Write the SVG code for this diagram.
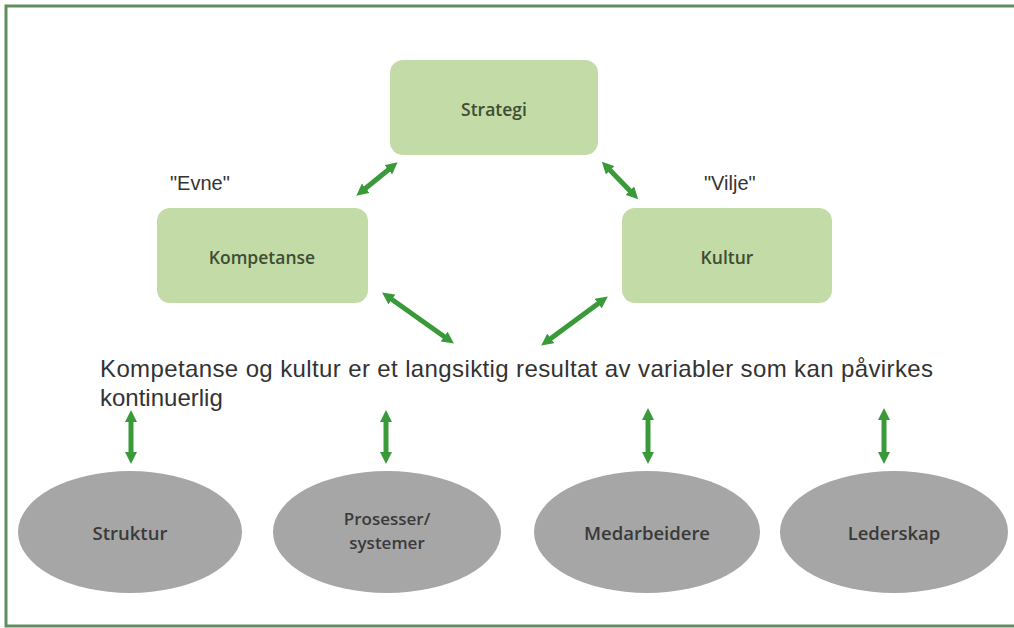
<svg xmlns="http://www.w3.org/2000/svg" width="1014" height="628" viewBox="0 0 1014 628">
<defs>
<marker id="ah" viewBox="0 0 10 10" refX="5" refY="5" markerWidth="2.4" markerHeight="2.4" orient="auto-start-reverse" markerUnits="strokeWidth">
<path d="M0,0 L10,5 L0,10 z" fill="#3a9a3a"/>
</marker>
<style>
.box{fill:#c3dba6;}
.ell{fill:#a6a6a6;}
.bt{font-family:"Open Sans","Liberation Sans",sans-serif;font-size:17.5px;font-weight:600;fill:#3e4d33;text-anchor:middle;}
.et{font-family:"Open Sans","Liberation Sans",sans-serif;font-size:18.5px;font-weight:600;fill:#3a3a3a;text-anchor:middle;}
.et2{font-family:"Open Sans","Liberation Sans",sans-serif;font-size:17px;font-weight:600;fill:#3a3a3a;text-anchor:middle;}
.lbl{font-family:"Liberation Sans",Arial,sans-serif;font-size:20px;fill:#333;}
.main{font-family:"Liberation Sans",Arial,sans-serif;font-size:24px;fill:#333;}
.con{stroke:#3a9a3a;stroke-width:5;fill:none;marker-start:url(#ah);marker-end:url(#ah);}
</style>
</defs>
<rect x="0" y="0" width="1014" height="628" fill="#ffffff"/>
<rect x="6" y="6" width="1012" height="620" fill="none" stroke="#5f8f5f" stroke-width="3"/>
<g id="strategi"><rect class="box" x="390" y="60" width="208" height="95" rx="13"/><text class="bt" x="494" y="116">Strategi</text></g>
<g id="kompetanse"><rect class="box" x="157" y="208" width="211" height="95" rx="13"/><text class="bt" x="262" y="264">Kompetanse</text></g>
<g id="kultur"><rect class="box" x="622" y="208" width="210" height="95" rx="13"/><text class="bt" x="727" y="264">Kultur</text></g>
<g id="evne"><text class="lbl" x="170" y="190">"Evne"</text></g>
<g id="vilje"><text class="lbl" x="704" y="190">"Vilje"</text></g>
<g id="summary"><text class="main" x="100" y="377" textLength="833" lengthAdjust="spacing">Kompetanse og kultur er et langsiktig resultat av variabler som kan påvirkes</text><text class="main" x="100" y="406">kontinuerlig</text></g>
<g id="struktur"><ellipse class="ell" cx="130" cy="532" rx="112" ry="61"/><text class="et" x="130" y="540">Struktur</text></g>
<g id="prosesser"><ellipse class="ell" cx="387" cy="532" rx="114" ry="61"/><text class="et2" x="387" y="525">Prosesser/</text><text class="et2" x="387" y="549">systemer</text></g>
<g id="medarbeidere"><ellipse class="ell" cx="647" cy="532" rx="113" ry="61"/><text class="et" x="647" y="540">Medarbeidere</text></g>
<g id="lederskap"><ellipse class="ell" cx="894" cy="532" rx="114" ry="61"/><text class="et" x="894" y="540">Lederskap</text></g>
<g id="connectors">
<line class="con" x1="361" y1="192" x2="393" y2="166"/>
<line class="con" x1="606" y1="166" x2="634" y2="195"/>
<line class="con" x1="387" y1="296" x2="449" y2="340"/>
<line class="con" x1="603" y1="300" x2="546" y2="342"/>
<line class="con" x1="131" y1="416" x2="131" y2="458"/>
<line class="con" x1="386" y1="416" x2="386" y2="458"/>
<line class="con" x1="648" y1="414" x2="648" y2="458"/>
<line class="con" x1="884" y1="414" x2="884" y2="458"/>
</g>
</svg>
